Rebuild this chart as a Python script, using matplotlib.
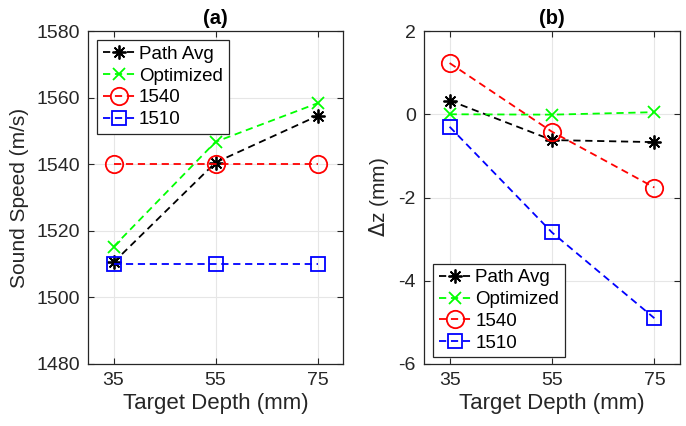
import numpy as np
import matplotlib.pyplot as plt

plt.rcParams['font.family'] = ['Liberation Sans', 'DejaVu Sans']
plt.rcParams['axes.unicode_minus'] = False

# Data
depths = [35, 55, 75]
labels = ['Path Avg', 'Optimized', '1540', '1510']

speed_path_avg = [1510.5, 1540.5, 1554.5]
speed_optimized = [1515.2, 1546.7, 1558.3]
speed_1540 = [1540, 1540, 1540]
speed_1510 = [1510, 1510, 1510]

dz_path_avg = [0.33, -0.62, -0.67]
dz_optimized = [0.0, -0.01, 0.05]
dz_1540 = [1.23, -0.42, -1.76]
dz_1510 = [-0.3, -2.84, -4.9]

STYLES = [
    dict(color='black', marker=(8, 2, 0), markersize=10),
    dict(color=(0, 1, 0), marker='x', markersize=9),
    dict(color='red', marker='o', markersize=12.5),
    dict(color='blue', marker='s', markersize=10),
]


def draw_panel(ax, series, title, ylabel, ylim, yticks, legend_loc, anchor):
    for vals, lab, st in zip(series, labels, STYLES):
        ax.plot(depths, vals, linestyle=(0, (4, 2.6)), linewidth=1.3,
                markerfacecolor='none', markeredgewidth=1.3, label=lab, **st)
    ax.set_xlim(30, 80)
    ax.set_xticks(depths)
    ax.set_ylim(*ylim)
    ax.set_yticks(yticks)
    ax.grid(True, color='0.9', linewidth=0.8)
    ax.set_axisbelow(True)
    ax.tick_params(direction='in', top=True, right=True, length=4,
                   labelsize=14, colors='0.15', pad=6)
    for sp in ax.spines.values():
        sp.set_color('0.15')
        sp.set_linewidth(0.9)
    ax.set_title(title, fontsize=14.5, fontweight='bold', pad=5)
    ax.set_xlabel('Target Depth (mm)', fontsize=16, color='0.15', labelpad=3)
    ax.set_ylabel(ylabel, fontsize=15, color='0.15', labelpad=5)
    leg = ax.legend(loc=legend_loc, bbox_to_anchor=anchor, fontsize=13.5,
                    fancybox=False, framealpha=1, edgecolor='0.15',
                    handlelength=1.8, handletextpad=0.15, borderpad=0.3,
                    labelspacing=0.25, borderaxespad=0)
    leg.get_frame().set_linewidth(0.9)


fig = plt.figure(figsize=(6.86, 4.26), dpi=100)
ax1 = fig.add_axes([88 / 686, 62 / 426, 255 / 686, 333 / 426])
ax2 = fig.add_axes([424 / 686, 62 / 426, 256 / 686, 333 / 426])

draw_panel(ax1, [speed_path_avg, speed_optimized, speed_1540, speed_1510],
           '(a)', 'Sound Speed (m/s)', (1480, 1580), np.arange(1480, 1581, 20),
           'upper left', (0.035, 0.973))
draw_panel(ax2, [dz_path_avg, dz_optimized, dz_1540, dz_1510],
           '(b)', '$\\Delta$z (mm)', (-6, 2), np.arange(-6, 3, 2),
           'lower left', (0.035, 0.02))

fig.savefig('out.png', dpi=100)
